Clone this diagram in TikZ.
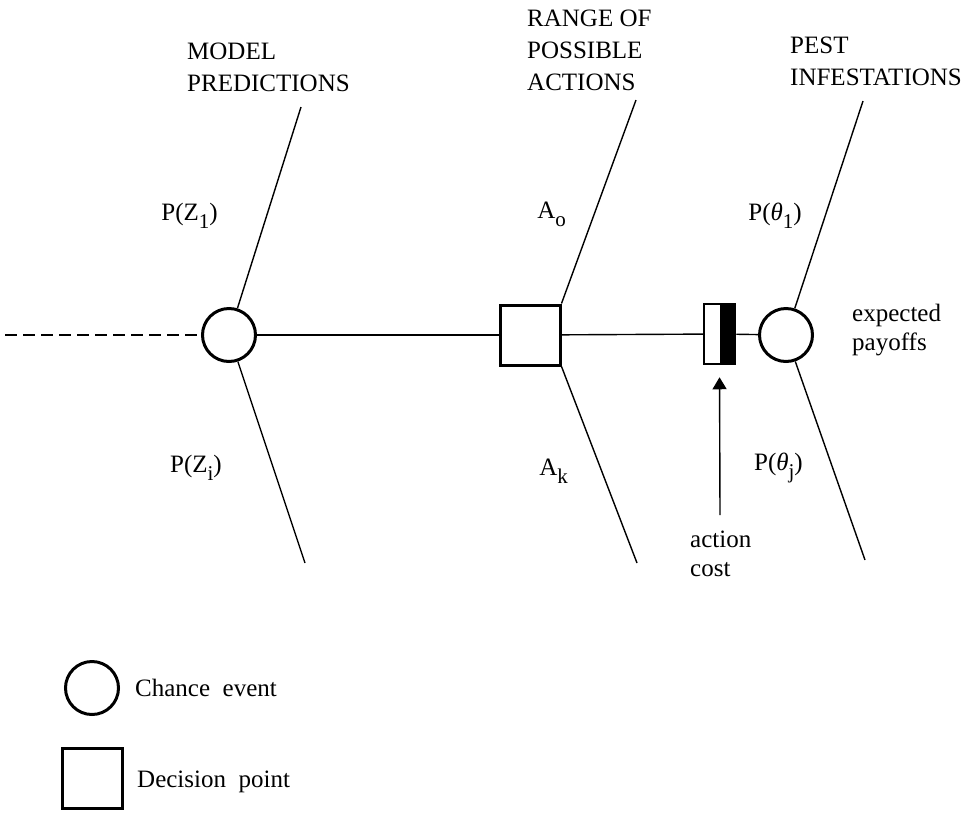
\documentclass[tikz,border=0pt]{standalone}
\usepackage{fontspec}
\setmainfont{Liberation Serif}
\usetikzlibrary{arrows.meta}
% lowered index used in the branch labels
\newcommand\lowidx[1]{\raisebox{-0.32em}{\fontsize{21}{21}\selectfont #1}}
\begin{document}
\begin{tikzpicture}[x=1pt,y=-1pt,
  chance/.style={circle,draw,line width=3pt,minimum size=53pt,inner sep=0pt},
  decision/.style={rectangle,draw,line width=3pt,minimum size=60pt,inner sep=0pt},
  costbox/.style={rectangle,draw,line width=2.5pt,minimum width=31pt,minimum height=60pt,inner sep=0pt,
    path picture={\fill (path picture bounding box.north) rectangle (path picture bounding box.south east);}},
  branch/.style={line width=1.4pt},
  heading/.style={font=\fontsize{25}{32}\selectfont,align=left,inner sep=0pt,anchor=north west},
  lbl/.style={font=\fontsize{25}{30}\selectfont,inner sep=0pt,anchor=base east},
  key/.style={font=\fontsize{25}{30}\selectfont,inner sep=0pt,anchor=base west},
  note/.style={font=\fontsize{25}{29}\selectfont,align=left,inner sep=0pt,anchor=north west}]
\useasboundingbox (0,0) rectangle (980,812);

% tree nodes
\node[chance] (z) at (229,335) {};
\node[decision] (a) at (530,335) {};
\node[costbox] (c) at (719.5,334) {};
\node[chance] (t) at (786,335) {};

% free ends of the branches
\coordinate (start) at (5,335);
\coordinate (z1) at (301,107);
\coordinate (zi) at (305,563);
\coordinate (a0) at (636,100);
\coordinate (ak) at (637,563);
\coordinate (t1) at (863,101);
\coordinate (tj) at (865,560);
\coordinate (foot) at (720,515);

% main stem
\draw[branch,dash pattern=on 12pt off 6pt] (start) -- (z);
\draw[branch] (z) -- (a);
\draw[branch] (a) -- (c);
\draw[branch] (c) -- (t);

% branches
\draw[branch] (z) -- (z1);
\draw[branch] (z) -- (zi);
\draw[branch] (a.north east) -- (a0);
\draw[branch] (a.south east) -- (ak);
\draw[branch] (t) -- (t1);
\draw[branch] (t) -- (tj);

% action cost arrow
\draw[branch,-{Triangle[length=12pt,width=14pt]},shorten >=12pt] (foot) -- (c.south);

% headings
\node[heading] (hm) at (187,43) {MODEL\\PREDICTIONS};
\node[heading] (hr) at (527,10) {RANGE OF\\POSSIBLE\\ACTIONS};
\node[heading] (hp) at (790,37) {PEST\\INFESTATIONS};

% branch labels
\node[lbl] (lz1) at (218,220) {P(Z\lowidx{1})};
\node[lbl] (lzi) at (222,472) {P(Z\lowidx{i})};
\node[lbl] (la0) at (566,218) {A\lowidx{o}};
\node[lbl] (lak) at (568,475) {A\lowidx{k}};
\node[lbl] (lt1) at (802,220) {P(\textit{θ}\lowidx{1})};
\node[lbl] (ltj) at (803,470) {P(\textit{θ}\lowidx{j})};

% notes
\node[note] (np) at (852,304) {expected\\payoffs};
\node[note] (nc) at (690,531) {action\\cost};

% legend
\node[chance] (lc) at (92,688) {};
\node[key] at (135,696) {Chance \ event};
\node[decision] (ld) at (92.5,778) {};
\node[key] at (137,787) {Decision \ point};
\end{tikzpicture}
\end{document}
